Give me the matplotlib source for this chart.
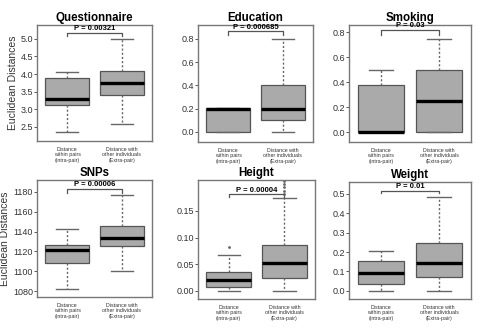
import matplotlib.pyplot as plt

plt.rcParams["font.family"] = ["Liberation Sans", "DejaVu Sans"]

# panel titles and p-values
titles = ["Questionnaire", "Education", "Smoking", "SNPs", "Height", "Weight"]
pvalues = ["P = 0.00321", "P = 0.000685", "P = 0.03", "P = 0.00006", "P = 0.00004", "P = 0.01"]
group_labels = ["Distance\nwithin pairs\n(Intra-pair)", "Distance with\nother individuals\n(Extra-pair)"]

# five-number summaries per panel: [intra, extra], each (low, q1, median, q3, high)
questionnaire = [(2.35, 3.12, 3.30, 3.88, 4.05), (2.57, 3.40, 3.75, 4.08, 4.98)]
education = [(0.0, 0.0, 0.20, 0.21, 0.21), (0.0, 0.10, 0.20, 0.40, 0.80)]
smoking = [(0.0, 0.0, 0.005, 0.375, 0.50), (0.0, 0.0, 0.25, 0.50, 0.75)]
snps = [(1082, 1108, 1121, 1126, 1143), (1100, 1125, 1133, 1146, 1177)]
height = [(0.0, 0.008, 0.020, 0.036, 0.067), (0.0, 0.025, 0.052, 0.087, 0.175)]
weight = [(0.0, 0.035, 0.090, 0.155, 0.205), (0.0, 0.070, 0.145, 0.245, 0.485)]
summaries = [questionnaire, education, smoking, snps, height, weight]

# outliers (only Height shows them)
fliers = [
    [[], []],
    [[], []],
    [[], []],
    [[], []],
    [[0.082], [0.182, 0.188, 0.194, 0.200, 0.206]],
    [[], []],
]

# y-axis ranges, ticks and bracket heights
ylims = [(2.1, 5.39), (-0.086, 0.92), (-0.077, 0.858), (1074, 1192), (-0.015, 0.208), (-0.043, 0.562)]
yticks = [
    [2.5, 3.0, 3.5, 4.0, 4.5, 5.0],
    [0.0, 0.2, 0.4, 0.6, 0.8],
    [0.0, 0.2, 0.4, 0.6, 0.8],
    [1080, 1100, 1120, 1140, 1160, 1180],
    [0.00, 0.05, 0.10, 0.15],
    [0.0, 0.1, 0.2, 0.3, 0.4, 0.5],
]
ytick_fmt = ["{:.1f}", "{:.1f}", "{:.1f}", "{:.0f}", "{:.2f}", "{:.1f}"]
brackets = [(5.17, 5.08), (0.866, 0.83), (0.818, 0.78), (1183.3, 1179), (0.181, 0.176), (0.517, 0.505)]

W, H = 480, 331
fig = plt.figure(figsize=(W / 100, H / 100), dpi=100)

# axes boxes in pixels: (left, top, right, bottom)
boxes_px = [
    (37, 25, 152, 141), (198, 25, 313, 142), (349, 25, 471, 142),
    (37, 180, 152, 297), (198, 180, 315, 299), (349, 182, 471, 299),
]

edge = "#555555"
for i, (l, t, r, b) in enumerate(boxes_px):
    ax = fig.add_axes([l / W, 1 - b / H, (r - l) / W, (b - t) / H])
    stats = []
    for j, s in enumerate(summaries[i]):
        lo, q1, med, q3, hi = s
        stats.append(dict(whislo=lo, q1=q1, med=med, q3=q3, whishi=hi,
                          fliers=fliers[i][j], label=group_labels[j]))
    ax.bxp(
        stats, positions=[1, 2], widths=0.8, patch_artist=True,
        boxprops=dict(facecolor="#aaaaaa", edgecolor=edge, linewidth=0.9),
        medianprops=dict(color="black", linewidth=2.4, solid_capstyle="butt"),
        whiskerprops=dict(color="#666666", linewidth=1.0, linestyle=(0, (1.5, 1.5))),
        capprops=dict(color="#666666", linewidth=1.0),
        capwidths=0.4,
        flierprops=dict(marker=".", markersize=2, markerfacecolor="#666666",
                        markeredgecolor="#666666", linestyle="none"),
    )
    ax.set_xlim(0.45, 2.55)
    ax.set_ylim(*ylims[i])
    ax.set_yticks(yticks[i])
    ax.set_yticklabels([ytick_fmt[i].format(v) for v in yticks[i]])
    ax.tick_params(axis="y", labelsize=6.5, length=2, width=0.7, color="#555555",
                   labelcolor="#333333", pad=1)
    ax.tick_params(axis="x", labelsize=3.8, length=0, pad=4, labelcolor="#333333")
    for sp in ax.spines.values():
        sp.set_color("#777777")
        sp.set_linewidth(1.0)
    ax.set_title(titles[i], fontsize=8.3, fontweight="bold", pad=3)
    if i % 3 == 0:
        ax.set_ylabel("Euclidean Distances", fontsize=7.5, color="#333333", labelpad=2)

    yb, ye = brackets[i]
    ax.plot([1, 1, 2, 2], [ye, yb, yb, ye], color="#555555", linewidth=0.9, clip_on=False)
    ax.annotate(pvalues[i], (1.5, yb), xytext=(0, 0.5), textcoords="offset points",
                ha="center", va="bottom", fontsize=5.5, fontweight="bold")

fig.savefig("out.png", dpi=100)
